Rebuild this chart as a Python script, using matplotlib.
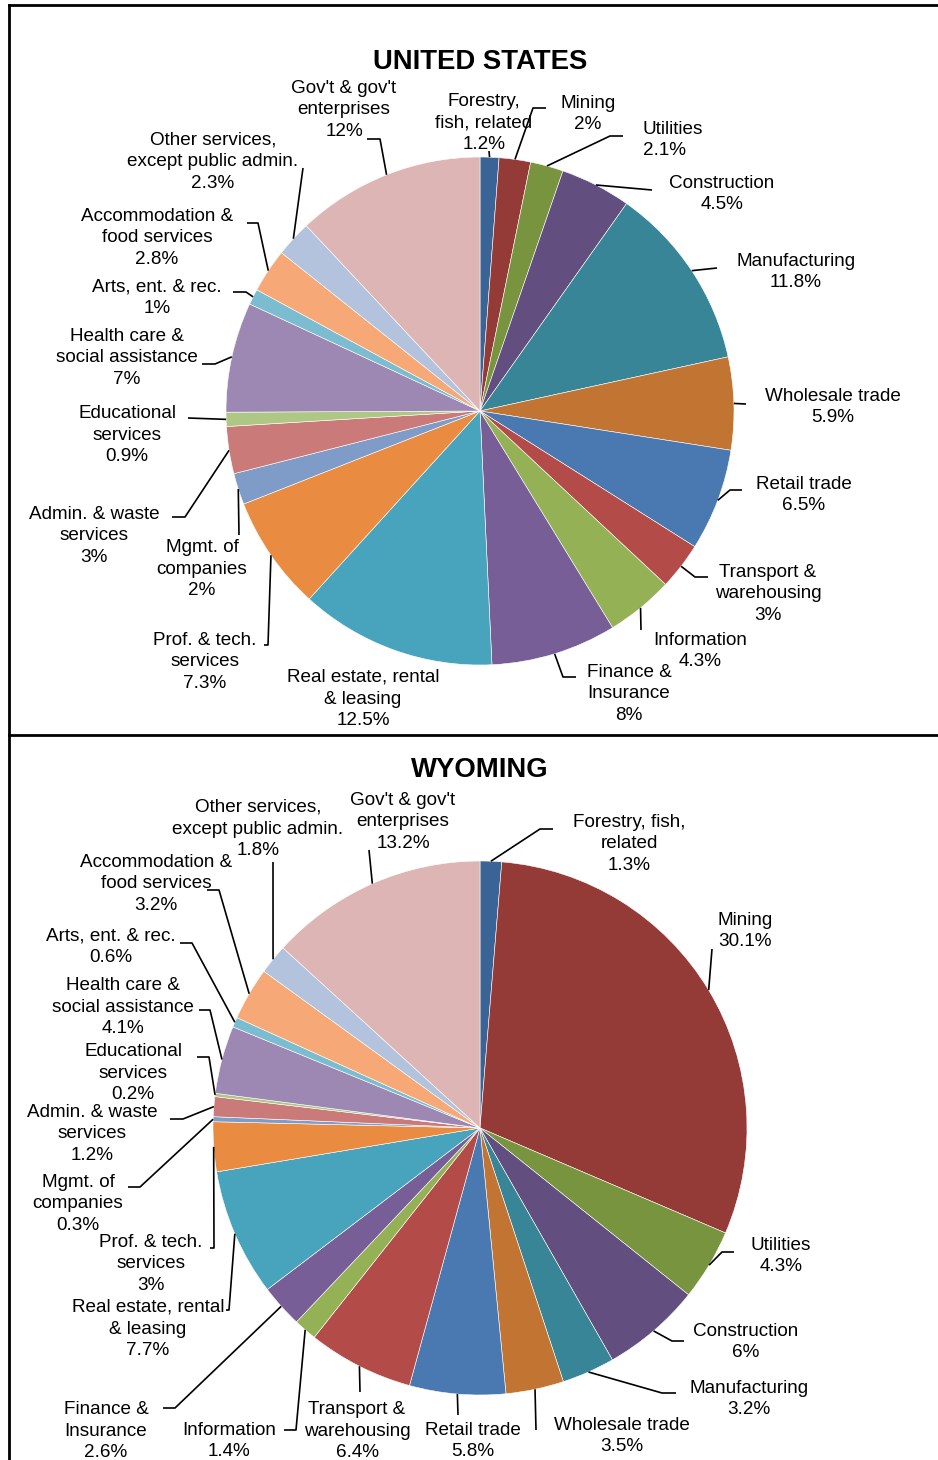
import numpy as np
import matplotlib.pyplot as plt

plt.rcParams['font.family'] = ['Liberation Sans', 'DejaVu Sans']

W, H = 938, 1460

sectors = ["Forestry", "Mining", "Utilities", "Construction", "Manufacturing",
           "Wholesale", "Retail", "Transport", "Information", "Finance",
           "Real estate", "Prof", "Mgmt", "Admin", "Educational", "Health",
           "Arts", "Accommodation", "Other", "Gov"]

us_values = [1.2, 2, 2.1, 4.5, 11.8, 5.9, 6.5, 3, 4.3, 8,
             12.5, 7.3, 2, 3, 0.9, 7, 1, 2.8, 2.3, 12]
wy_values = [1.3, 30.1, 4.3, 6, 3.2, 3.5, 5.8, 6.4, 1.4, 2.6,
             7.7, 3, 0.3, 1.2, 0.2, 4.1, 0.6, 3.2, 1.8, 13.2]

us_names = ["Forestry,\nfish, related", "Mining", "Utilities", "Construction",
            "Manufacturing", "Wholesale trade", "Retail trade",
            "Transport &\nwarehousing", "Information", "Finance &\nInsurance",
            "Real estate, rental\n& leasing", "Prof. & tech.\nservices",
            "Mgmt. of\ncompanies", "Admin. & waste\nservices",
            "Educational\nservices", "Health care &\nsocial assistance",
            "Arts, ent. & rec.", "Accommodation &\nfood services",
            "Other services,\nexcept public admin.", "Gov't & gov't\nenterprises"]
wy_names = ["Forestry, fish,\nrelated"] + us_names[1:]

colors = ["#3B6496", "#943A37", "#78943E", "#624E7F", "#388598",
          "#C27432", "#4A78B1", "#B34B48", "#94B255", "#785E97",
          "#48A3BC", "#E98C41", "#7F9CC8", "#C97A79", "#AEC785",
          "#9C88B2", "#7BBCD0", "#F6A977", "#B4C3DD", "#DEB5B5"]

# label layout: (x, y, ha, leader path from wedge outward) in image pixels
us_layout = [
    (484, 123, 'center', [(489, 151)]),
    (588, 114, 'center', [(533, 108), (546, 108)]),
    (643, 140, 'left', [(610, 136), (623, 136)]),
    (722, 194, 'center', [(652, 190)]),
    (796, 272, 'center', [(717, 268)]),
    (833, 407, 'center', [(746, 404)]),
    (804, 495, 'center', [(730, 490), (742, 490)]),
    (768, 594, 'center', [(695, 577), (708, 577)]),
    (700, 651, 'center', [(641, 630)]),
    (629, 694, 'center', [(563, 677), (576, 677)]),
    (363, 699, 'center', []),
    (205, 662, 'center', [(268, 645), (264, 645)]),
    (202, 569, 'center', [(239, 535)]),
    (94, 536, 'center', [(185, 517), (172, 517)]),
    (127, 435, 'center', [(188, 418)]),
    (127, 358, 'center', [(215, 364), (202, 364)]),
    (157, 298, 'center', [(246, 292), (233, 292)]),
    (157, 238, 'center', [(258, 223), (247, 223)]),
    (213, 162, 'center', [(303, 168)]),
    (344, 110, 'center', [(380, 139), (367, 139)]),
]
wy_layout = [
    (629, 844, 'center', [(540, 829), (553, 829)]),
    (745, 931, 'center', [(712, 949)]),
    (781, 1256, 'center', [(722, 1252), (734, 1252)]),
    (746, 1342, 'center', [(672, 1341), (684, 1341)]),
    (749, 1399, 'center', [(662, 1393), (676, 1393)]),
    (622, 1436, 'center', [(536, 1430)]),
    (473, 1441, 'center', [(458, 1415)]),
    (357, 1431, 'center', [(360, 1392)]),
    (229, 1441, 'center', [(296, 1430), (284, 1430)]),
    (106, 1431, 'center', [(175, 1408), (163, 1408)]),
    (148, 1329, 'center', [(229, 1310), (226, 1310)]),
    (151, 1264, 'center', [(214, 1248), (210, 1248)]),
    (78, 1204, 'center', [(140, 1187), (128, 1187)]),
    (92, 1134, 'center', [(183, 1119), (170, 1119)]),
    (133, 1073, 'center', [(209, 1057), (197, 1057)]),
    (123, 1007, 'center', [(210, 1010), (199, 1010)]),
    (111, 947, 'center', [(192, 943), (180, 943)]),
    (156, 884, 'center', [(219, 890), (207, 890)]),
    (258, 829, 'center', [(273, 862)]),
    (403, 822, 'center', [(369, 850)]),
]


def fy(py):
    return H - py


def fmt(v):
    return ('%g' % v) + '%'


fig = plt.figure(figsize=(W / 100, H / 100), dpi=100)
ax = fig.add_axes([0, 0, 1, 1])


def draw_pie(values, names, layout, cx, cy, r, title, ty):
    center = (cx, fy(cy))
    wedges, _ = ax.pie(values, colors=colors, startangle=90, counterclock=False,
                       center=center, radius=r,
                       wedgeprops=dict(edgecolor='white', linewidth=0.4))
    for w, name, v, (tx, tyy, ha, path) in zip(wedges, names, values, layout):
        ang = np.deg2rad((w.theta1 + w.theta2) / 2)
        if path:
            xs = [cx + r * np.cos(ang)] + [p[0] for p in path]
            ys = [fy(cy) + r * np.sin(ang)] + [fy(p[1]) for p in path]
            ax.plot(xs, ys, color='black', lw=1.2, solid_capstyle='butt')
        ax.text(tx, fy(tyy), name + '\n' + fmt(v), ha=ha, va='center',
                multialignment=ha, fontsize=13.6, linespacing=1.35)
    ax.text(480, fy(ty), title, ha='center', va='center', fontsize=19.8,
            fontweight='bold')


draw_pie(us_values, us_names, us_layout, 480, 411, 254, 'UNITED STATES', 62)
draw_pie(wy_values, wy_names, wy_layout, 480, 1128, 267, 'WYOMING', 770)

# panel borders
ax.plot([9, 9], [fy(5), fy(1460)], color='black', lw=2)
ax.plot([9, 938], [fy(5), fy(5)], color='black', lw=2)
ax.plot([9, 938], [fy(735), fy(735)], color='black', lw=2)

ax.set_xlim(0, W)
ax.set_ylim(0, H)
ax.set_aspect('equal')
ax.axis('off')

fig.savefig('out.png', dpi=100)
